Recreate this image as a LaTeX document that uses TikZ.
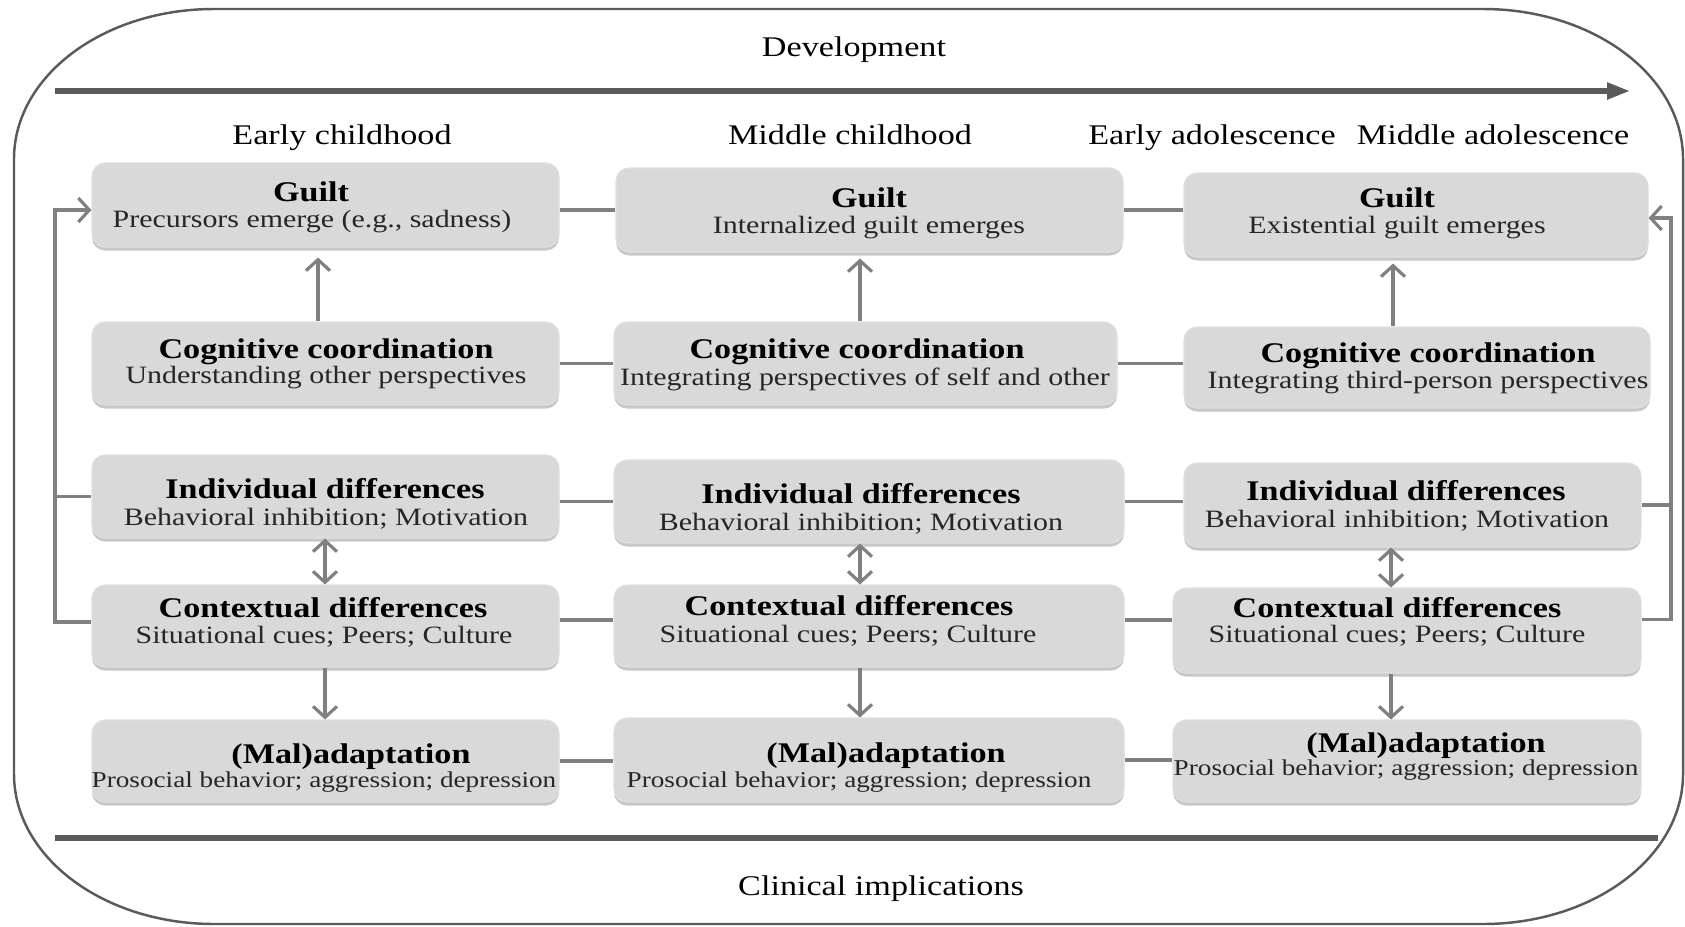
\documentclass[tikz,border=0pt]{standalone}
\usepackage{fontspec}
\setmainfont{Liberation Serif}[FakeStretch=1.2]
\usetikzlibrary{arrows.meta,fit,shadows}

\definecolor{boxfill}{HTML}{D9D9D9}
\definecolor{linkgray}{HTML}{808080}
\definecolor{framegray}{HTML}{5A5A5A}
\definecolor{subtext}{HTML}{262626}

\tikzset{
  cbox/.style={rounded corners=1.3mm, fill=boxfill, draw=white!88!black, line width=0.3pt,
    inner sep=0pt,
    drop shadow={shadow xshift=0mm, shadow yshift=-0.35mm, fill=black, opacity=0.22}},
  ttl/.style={anchor=base, inner sep=0pt, font=\fontsize{8.1}{9}\selectfont\bfseries},
  subt/.style={anchor=base, inner sep=0pt, text=subtext, font=\fontsize{7.1}{8}\selectfont},
  subsmall/.style={anchor=base, inner sep=0pt, text=subtext, font=\fontsize{6.45}{7.5}\selectfont},
  period/.style={anchor=base, inner sep=0pt, font=\fontsize{8.1}{9}\selectfont},
  conn/.style={draw=linkgray, line width=0.9pt},
  connarrow/.style={conn, -{Straight Barb[length=1.1mm,width=2.4mm]}},
  twoway/.style={conn, {Straight Barb[length=1.1mm,width=2.4mm]}-{Straight Barb[length=1.1mm,width=2.4mm]}},
  timeline/.style={draw=framegray, line width=1.5pt},
}

% #1 name, #2 corners, #3/#4 title base point, #5 title, #6/#7 subtitle base point, #8 subtitle, #9 subtitle style
\newcommand\stagebox[9]{%
  \node[cbox, fit={#2}] (#1) {};
  \node[ttl] (#1-t) at (#3,#4) {#5};
  \node[#9] (#1-s) at (#6,#7) {#8};
}

\begin{document}
\begin{tikzpicture}[x=0.1mm, y=-0.1mm]
\useasboundingbox (0,0) rectangle (1685,926);

% outer frame
\draw[framegray, line width=0.7pt]
  (214,9) -- (1483,9) .. controls (1593.5,9) and (1683,76) .. (1683,159)
  -- (1683,774) .. controls (1683,857) and (1593.5,924) .. (1483,924)
  -- (214,924) .. controls (103.5,924) and (14,857) .. (14,774)
  -- (14,159) .. controls (14,76) and (103.5,9) .. (214,9) -- cycle;

% development time line
\coordinate (devL) at (55,91);
\coordinate (devR) at (1630,91);
\draw[timeline, -{Triangle[length=2.3mm,width=1.6mm]}] (devL) -- (devR);
\node[period] (dev) at (854,57) {Development};

% clinical line
\coordinate (clinL) at (55,838);
\coordinate (clinR) at (1658,838);
\draw[timeline] (clinL) -- (clinR);
\node[period] (clin) at (881,895) {Clinical implications};

% periods
\node[period] (p1) at (342,145) {Early childhood};
\node[period] (p2) at (850,145) {Middle childhood};
\node[period] (p3) at (1212,145) {Early adolescence};
\node[period] (p4) at (1493,145) {Middle adolescence};

% column 1
\stagebox{g1}{(92,163) (559,247)}{311}{202}{Guilt}{312}{228}{Precursors emerge (e.g., sadness)}{subt}
\stagebox{c1}{(92,322) (559,405)}{326}{358}{Cognitive coordination}{326}{383}{Understanding other perspectives}{subt}
\stagebox{i1}{(92,455) (559,538)}{325}{498}{Individual differences}{326}{525}{Behavioral inhibition; Motivation}{subt}
\stagebox{x1}{(92,585) (559,667)}{323}{617}{Contextual differences}{324}{643}{Situational cues; Peers; Culture}{subt}
\stagebox{m1}{(92,720) (559,802)}{351}{763}{(Mal)adaptation}{324}{787}{Prosocial behavior; aggression; depression}{subsmall}

% column 2
\stagebox{g2}{(616,168) (1123,252)}{869}{207}{Guilt}{869}{233}{Internalized guilt emerges}{subt}
\stagebox{c2}{(614,322) (1117,405)}{857}{358}{Cognitive coordination}{865}{385}{Integrating perspectives of self and other}{subt}
\stagebox{i2}{(614,460) (1124,543)}{861}{503}{Individual differences}{861}{530}{Behavioral inhibition; Motivation}{subt}
\stagebox{x2}{(614,585) (1124,667)}{849}{615}{Contextual differences}{848}{642}{Situational cues; Peers; Culture}{subt}
\stagebox{m2}{(614,718) (1124,802)}{886}{762}{(Mal)adaptation}{859}{787}{Prosocial behavior; aggression; depression}{subsmall}

% column 3
\stagebox{g3}{(1184,173) (1648,257)}{1397}{207}{Guilt}{1397}{233}{Existential guilt emerges}{subt}
\stagebox{c3}{(1184,327) (1650,408)}{1428}{362}{Cognitive coordination}{1428}{388}{Integrating third-person perspectives}{subt}
\stagebox{i3}{(1184,463) (1641,547)}{1406}{500}{Individual differences}{1407}{527}{Behavioral inhibition; Motivation}{subt}
\stagebox{x3}{(1173,588) (1641,673)}{1397}{617}{Contextual differences}{1397}{642}{Situational cues; Peers; Culture}{subt}
\stagebox{m3}{(1173,720) (1641,802)}{1426}{752}{(Mal)adaptation}{1406}{775}{Prosocial behavior; aggression; depression}{subsmall}

% links between columns
\coordinate (x1r) at ([yshift=0.6mm]x1.east);
\coordinate (x2r) at ([yshift=0.6mm]x2.east);
\draw[conn] (g1.east |- g2.west) -- (g2.west);
\draw[conn] (g2.east) -- (g2.east -| g3.west);
\draw[conn] (c1.east) -- (c1.east -| c2.west);
\draw[conn] (c2.east) -- (c2.east -| c3.west);
\draw[conn] (i1.east |- i2.west) -- (i2.west);
\draw[conn] (i2.east) -- (i2.east -| i3.west);
\draw[conn] (x1r) -- (x1r -| x2.west);
\draw[conn] (x2r) -- (x2r -| x3.west);
\draw[conn] (m1.east) -- (m1.east -| m2.west);
\draw[conn] (m2.east) -- (m2.east -| m3.west);

% feedback loops
\coordinate (lx) at (55,0);
\coordinate (rx) at (1671,0);
\coordinate (x1l) at ([yshift=0.4mm]x1.west);
\coordinate (g1l) at ([yshift=-0.5mm]g1.west);
\coordinate (x3e) at ([yshift=1.1mm]x3.east);
\coordinate (g3e) at ([yshift=-0.3mm]g3.east);
\draw[connarrow] (x1l) -- (x1l -| lx) |- (g1l);
\draw[conn] (i1.west) -- (i1.west -| lx);
\draw[connarrow] (x3e) -- (x3e -| rx) |- (g3e);
\draw[conn] (i3.east) -- (i3.east -| rx);

% vertical arrows
\coordinate (ua1) at (318,0);
\coordinate (ua2) at (860,0);
\coordinate (ua3) at (1393,0);
\coordinate (da1) at (325,0);
\coordinate (da2) at (860,0);
\coordinate (da3) at (1391,0);
\draw[connarrow, shorten >=1mm] (c1.north -| ua1) -- (g1.south -| ua1);
\draw[connarrow, shorten >=0.6mm] (c2.north -| ua2) -- (g2.south -| ua2);
\draw[connarrow, shorten >=0.6mm] (c3.north -| ua3) -- (g3.south -| ua3);
\draw[twoway] (i1.south -| da1) -- (x1.north -| da1);
\draw[twoway] (i2.south -| da2) -- (x2.north -| da2);
\draw[twoway] (i3.south -| da3) -- (x3.north -| da3);
\draw[connarrow] (x1.south -| da1) -- (m1.north -| da1);
\draw[connarrow] (x2.south -| da2) -- (m2.north -| da2);
\draw[connarrow] (x3.south -| da3) -- (m3.north -| da3);

\end{tikzpicture}
\end{document}
